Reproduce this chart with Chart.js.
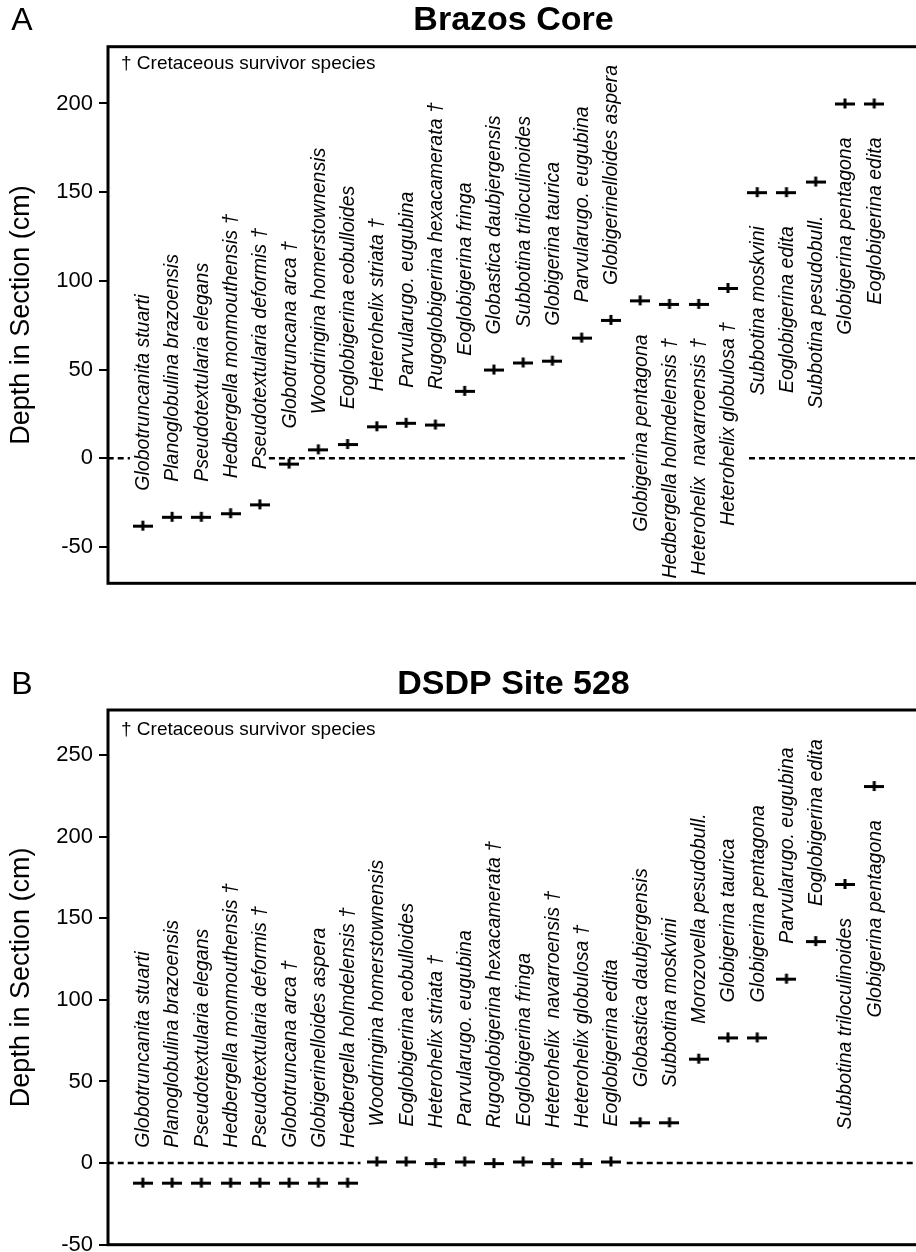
<!DOCTYPE html>
<html>
<head>
<meta charset="utf-8">
<script src="https://cdn.jsdelivr.net/npm/chart.js@4.4.1/dist/chart.umd.min.js"></script>
<style>
  body { margin: 0; background: #fff; overflow: hidden; width: 916px; height: 1252px; position: relative; }
  canvas { position: absolute; left: 0; }
  #chartA { top: 0; }
  #chartB { top: 640px; }
</style>
</head>
<body>
<canvas id="chartA" width="930" height="640"></canvas>
<canvas id="chartB" width="930" height="640"></canvas>
<script>
// Panel A - Brazos Core
const speciesA = [
    'Globotruncanita stuarti',
    'Planoglobulina brazoensis',
    'Pseudotextularia elegans',
    'Hedbergella monmouthensis †',
    'Pseudotextularia deformis †',
    'Globotruncana arca †',
    'Woodringina homerstownensis',
    'Eoglobigerina eobulloides',
    'Heterohelix striata †',
    'Parvularugo. eugubina',
    'Rugoglobigerina hexacamerata †',
    'Eoglobigerina fringa',
    'Globastica daubjergensis',
    'Subbotina triloculinoides',
    'Globigerina taurica',
    'Parvularugo. eugubina',
    'Globigerinelloides aspera',
    'Globigerina pentagona',
    'Hedbergella holmdelensis †',
    'Heterohelix  navarroensis †',
    'Heterohelix globulosa †',
    'Subbotina moskvini',
    'Eoglobigerina edita',
    'Subbotina pesudobull.',
    'Globigerina pentagona',
    'Eoglobigerina edita'
];
const depthA = [-38, -33, -33, -31, -26, -3, 5, 8, 18, 20, 19, 38, 50, 54, 55, 68, 78, 89, 87, 87, 96, 150, 150, 156, 200, 200];
const ticksA = [-50, 0, 50, 100, 150, 200];
// dashed zero line pieces, in species-index units
const zeroLineA = [[-1.2, -0.44], [4.31, 16.54], [20.72, 26.6]];

// Panel B - DSDP Site 528
const speciesB = [
    'Globotruncanita stuarti',
    'Planoglobulina brazoensis',
    'Pseudotextularia elegans',
    'Hedbergella monmouthensis †',
    'Pseudotextularia deformis †',
    'Globotruncana arca †',
    'Globigerinelloides aspera',
    'Hedbergella holmdelensis †',
    'Woodringina homerstownensis',
    'Eoglobigerina eobulloides',
    'Heterohelix striata †',
    'Parvularugo. eugubina',
    'Rugoglobigerina hexacamerata †',
    'Eoglobigerina fringa',
    'Heterohelix  navarroensis †',
    'Heterohelix globulosa †',
    'Eoglobigerina edita',
    'Globastica daubjergensis',
    'Subbotina moskvini',
    'Morozovella pesudobull.',
    'Globigerina taurica',
    'Globigerina pentagona',
    'Parvularugo. eugubina',
    'Eoglobigerina edita',
    'Subbotina triloculinoides',
    'Globigerina pentagona'
];
const depthB = [-12, -12, -12, -12, -12, -12, -12, -12, 1, 1, 0, 1, 0, 1, 0, 0, 1, 25, 25, 64, 77, 77, 113, 136, 171, 231];
const ticksB = [-50, 0, 50, 100, 150, 200, 250];
const zeroLineB = [[-1.2, 7.44], [16.54, 26.6]];

Chart.defaults.font.family = '"Liberation Sans", Arial, Helvetica, sans-serif';
Chart.defaults.color = '#000';

function makeMarker() {
    const c = document.createElement('canvas');
    c.width = 20;
    c.height = 12;
    const g = c.getContext('2d');
    g.fillStyle = '#000';
    g.fillRect(0, 5, 20, 3);
    g.fillRect(8.5, 1, 3, 10);
    return c;
}

const panelDecor = {
    id: 'panelDecor',
    afterDraw(chart, args, opts) {
        const ctx = chart.ctx;
        const a = chart.chartArea;
        ctx.save();
        ctx.fillStyle = '#000';
        ctx.textBaseline = 'middle';

        ctx.textAlign = 'center';
        ctx.font = '32px "Liberation Sans", Arial, sans-serif';
        ctx.fillText(opts.letter, 22, opts.titleY);
        ctx.font = 'bold 34px "Liberation Sans", Arial, sans-serif';
        ctx.fillText(opts.title, (a.left + a.right) / 2, opts.titleY);

        ctx.textAlign = 'left';
        ctx.font = '19px "Liberation Sans", Arial, sans-serif';
        ctx.fillText('† Cretaceous survivor species', a.left + 13, a.top + opts.legendDy);

        ctx.lineWidth = 3;
        ctx.strokeStyle = '#000';
        ctx.strokeRect(a.left, a.top, a.right - a.left, a.bottom - a.top);

        // species names, rotated, above or below each marker
        const xs = chart.scales.x;
        const ys = chart.scales.y;
        const pts = chart.data.datasets[0].data;
        ctx.font = 'italic 19.5px "Liberation Sans", Arial, sans-serif';
        pts.forEach((p, i) => {
            const px = xs.getPixelForValue(p.x);
            const py = ys.getPixelForValue(p.y);
            const below = i >= opts.firstBelow;
            ctx.save();
            ctx.translate(px, below ? py + 34 : py - 35);
            ctx.rotate(-Math.PI / 2);
            ctx.textAlign = below ? 'right' : 'left';
            ctx.fillText(chart.data.labels[i], 0, 1);
            ctx.restore();
        });
        ctx.restore();
    }
};

function buildChart(canvasId, species, depths, tickValues, zeroLine, yMin, yMax, decor, padding) {
    const marker = makeMarker();
    const datasets = [{
        data: depths.map((d, i) => ({ x: i, y: d })),
        pointStyle: marker,
        pointRadius: 10,
        pointHoverRadius: 10,
        showLine: false
    }];
    zeroLine.forEach(seg => {
        datasets.push({
            data: [{ x: seg[0], y: 0 }, { x: seg[1], y: 0 }],
            showLine: true,
            borderColor: '#000',
            borderWidth: 2.5,
            borderDash: [6, 4],
            pointRadius: 0
        });
    });

    const ctx = document.getElementById(canvasId).getContext('2d');
    return new Chart(ctx, {
        type: 'scatter',
        data: { labels: species, datasets: datasets },
        options: {
            responsive: false,
            animation: false,
            events: [],
            layout: { padding: padding },
            plugins: {
                legend: { display: false },
                tooltip: { enabled: false },
                panelDecor: decor
            },
            scales: {
                x: { type: 'linear', min: -1.19, max: 26.53, display: false },
                y: {
                    type: 'linear',
                    min: yMin,
                    max: yMax,
                    afterBuildTicks: (scale) => {
                        scale.ticks = tickValues.map(v => ({ value: v }));
                    },
                    afterFit: (scale) => {
                        scale.width = 108;
                    },
                    border: { display: false },
                    grid: {
                        drawOnChartArea: false,
                        drawTicks: true,
                        tickLength: 9,
                        color: '#000',
                        lineWidth: 2
                    },
                    ticks: {
                        padding: 6,
                        color: '#000',
                        font: { size: 22 }
                    },
                    title: {
                        display: true,
                        text: 'Depth in Section (cm)',
                        color: '#000',
                        font: { size: 27 },
                        padding: { top: 5, bottom: 0 }
                    }
                }
            }
        },
        plugins: [panelDecor]
    });
}

buildChart('chartA', speciesA, depthA, ticksA, zeroLineA, -70.5, 232,
    { letter: 'A', title: 'Brazos Core', titleY: 21, legendDy: 17, firstBelow: 17 },
    { top: 46.7, bottom: 56.7, left: 0, right: 6 });

buildChart('chartB', speciesB, depthB, ticksB, zeroLineB, -50, 277.6,
    { letter: 'B', title: 'DSDP Site 528', titleY: 45, legendDy: 20, firstBelow: 24 },
    { top: 70, bottom: 35.3, left: 0, right: 6 });
</script>
</body>
</html>
